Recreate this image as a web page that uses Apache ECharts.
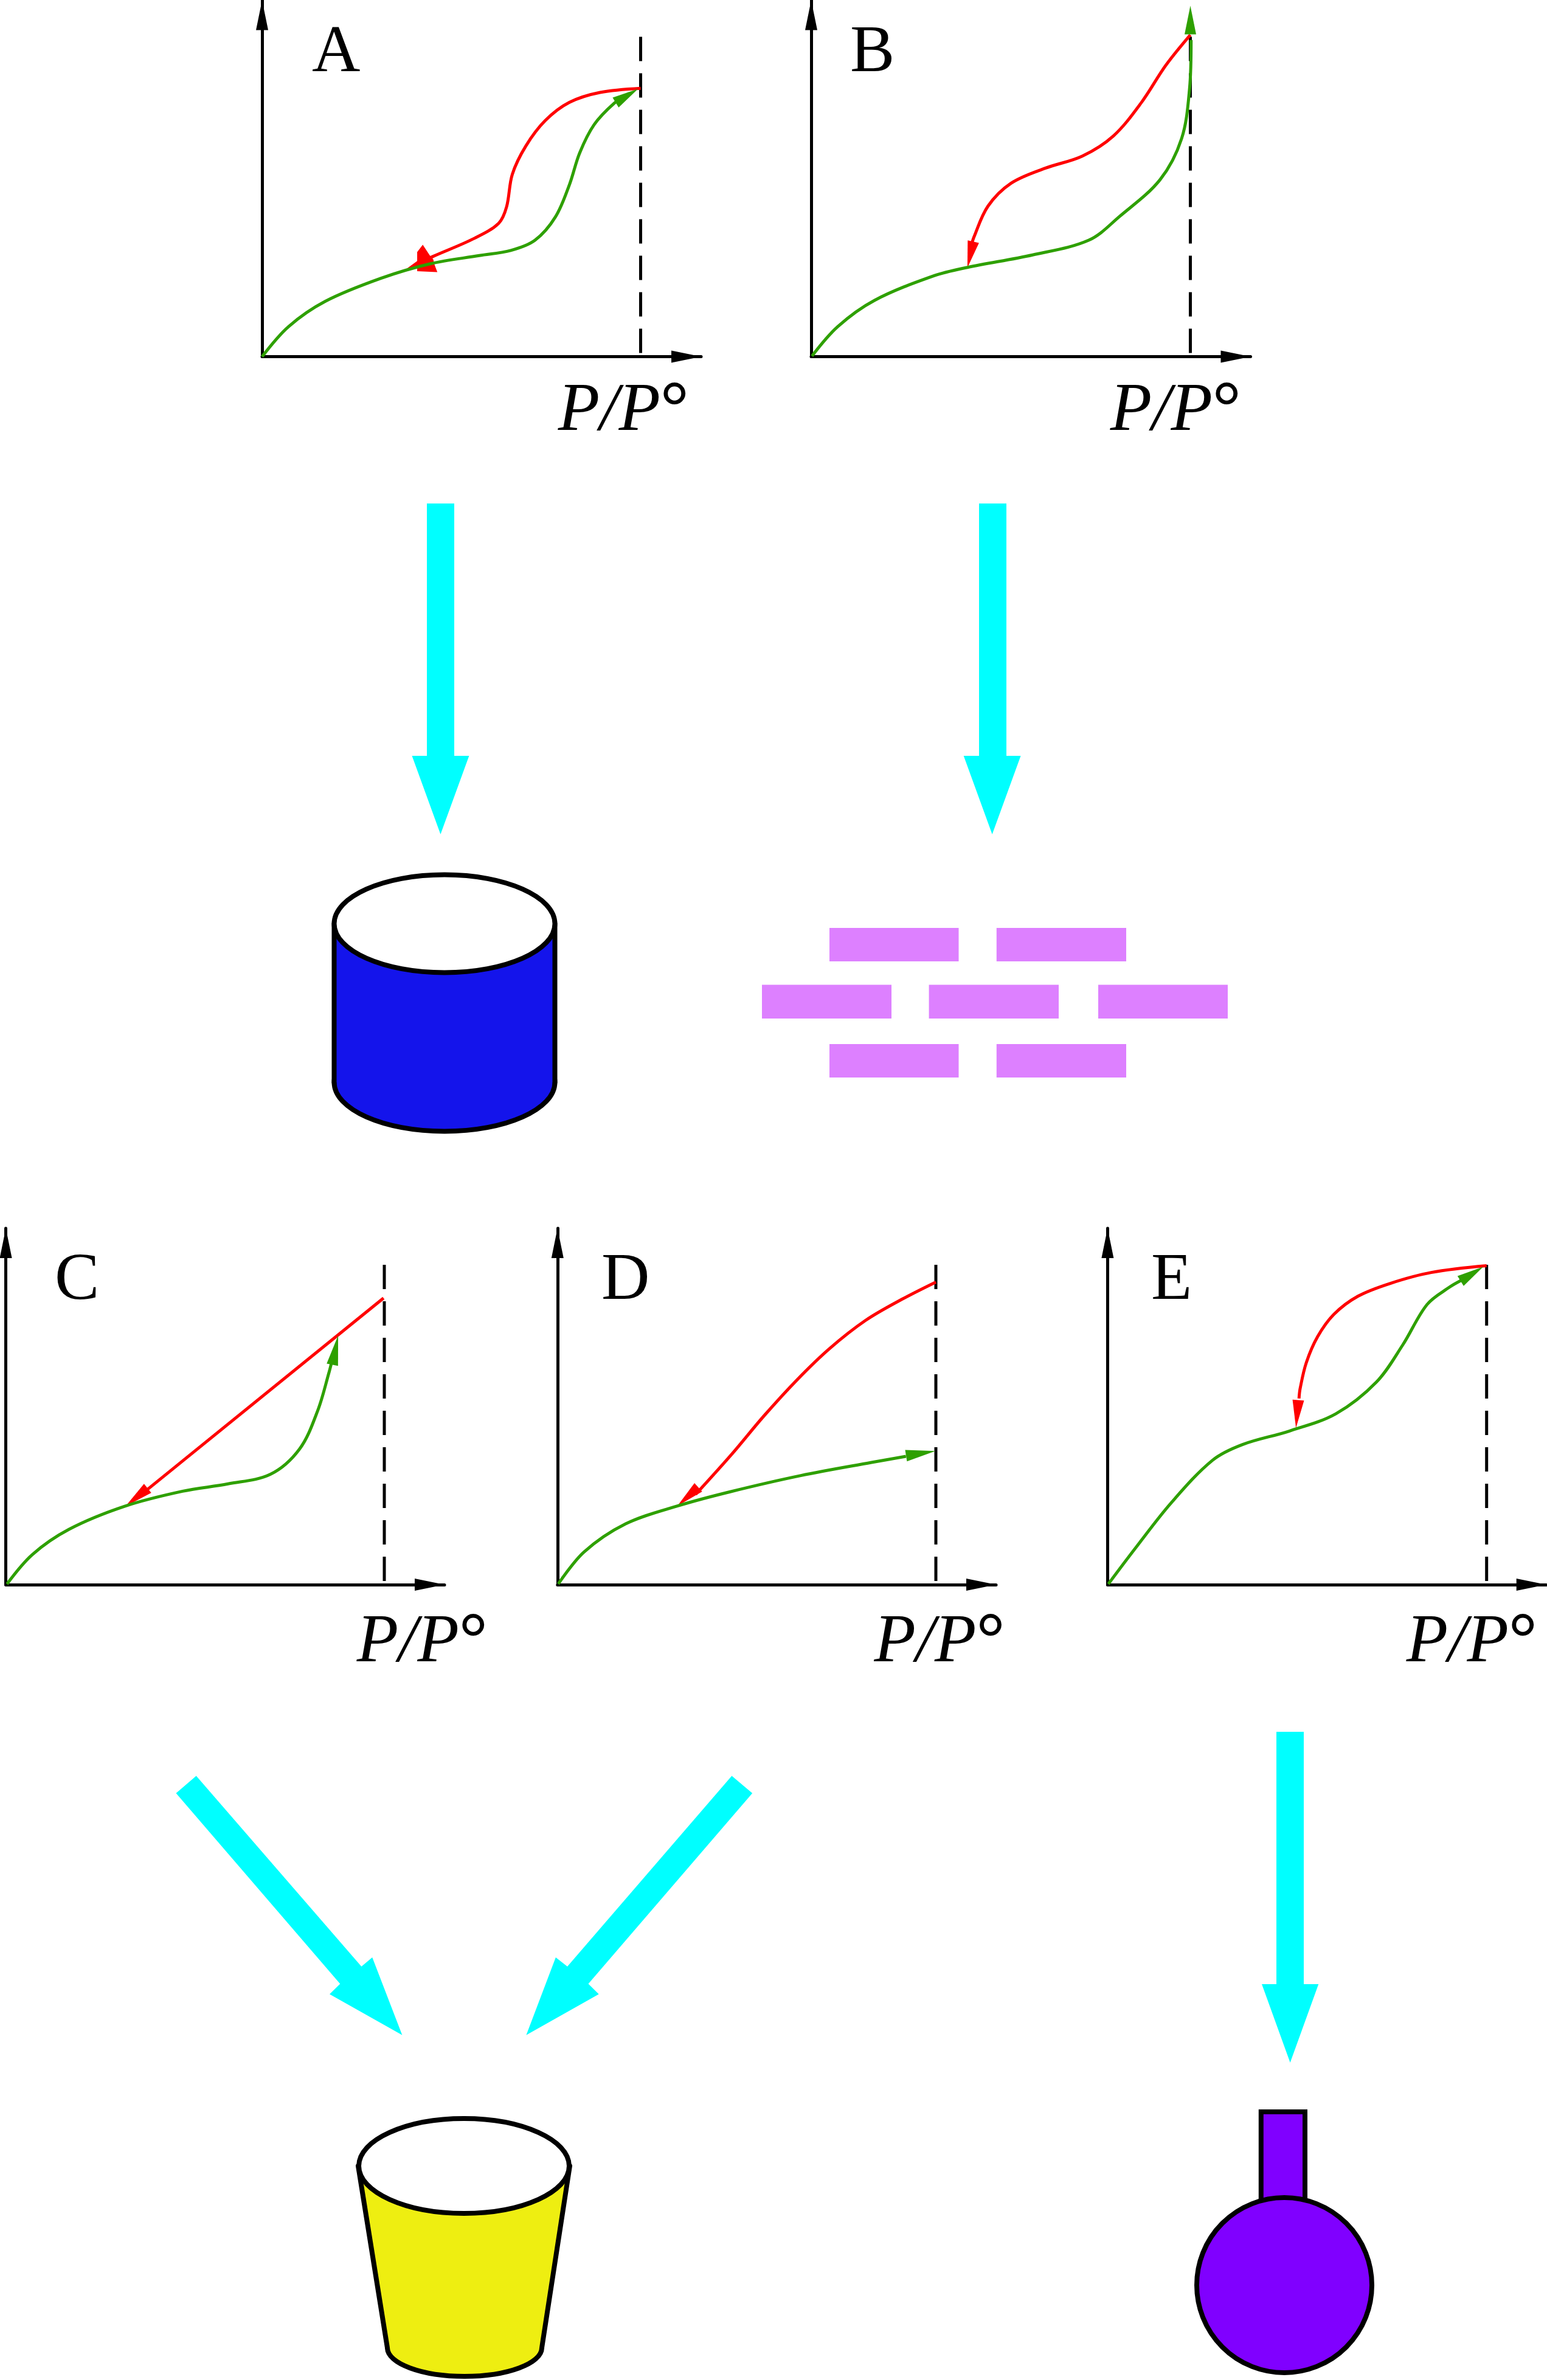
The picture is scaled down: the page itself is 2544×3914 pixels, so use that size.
<!DOCTYPE html>
<html>
<head>
<meta charset="utf-8">
<style>html,body{margin:0;padding:0;background:#fff}#c{width:2544px;height:3914px}</style>
<script src="https://cdn.jsdelivr.net/npm/echarts@6/dist/echarts.min.js"></script>
</head>
<body>
<div id="c"></div>
<script>
// ---- Data: [P/P°, adsorbed amount in % of the dashed line's height] ----
const panelNames = ['A', 'B', 'C', 'D', 'E'];
const xAxisLabel = '{i|P/P}{d|°}';
const saturation = [[1, 100], [1, 0]];

const adsorptionA = [[0,0],[.07,9.4],[.167,17.3],[.314,24.5],[.443,29],[.574,31.6],[.657,33.2],[.721,36.4],[.775,43.7],[.812,53.8],[.839,63.7],[.877,72.5],[.93,79.2],[.97,82.3]];
const desorptionA = [[1,83.9],[.893,82.6],[.812,79.5],[.748,73.8],[.697,65.9],[.661,57],[.646,46.9],[.625,41.7],[.561,37],[.451,31.3],[.41,29]];
const adsorptionTipA = [.993, 83.7];
const desorptionTipA = [.422, 30.7];

const adsorptionB = [[.002,.2],[.07,9.4],[.167,17.6],[.322,25.2],[.412,27.9],[.584,31.8],[.732,36.4],[.813,43.8],[.92,55.3],[.977,68.2],[.998,83.9],[1.002,99]];
const desorptionB = [[1,100.6],[.936,91.2],[.87,79.3],[.797,69],[.715,62.7],[.617,58.9],[.527,54.2],[.466,47],[.429,37.3],[.421,34.1]];
const adsorptionTipB = [1, 109.7];
const desorptionTipB = [.412, 27.8];

const adsorptionC = [[.003,.2],[.07,9.4],[.167,17.3],[.314,24.5],[.467,29.2],[.587,31.5],[.699,34.5],[.776,42.4],[.824,54.4],[.854,66.4],[.862,70.1]];
const desorptionC = [[.998,89.6],[.36,28.4]];
const adsorptionTipC = [.878, 77.9];
const desorptionTipC = [.316, 24.5];

const adsorptionD = [[.002,.2],[.07,10.2],[.18,19],[.317,24.6],[.455,29],[.643,34.1],[.83,38.2],[.921,40.1]];
const desorptionD = [[1,94.6],[.91,89.2],[.814,82.6],[.718,73.7],[.632,63.9],[.546,52.8],[.46,40.7],[.365,28.2]];
const adsorptionTipD = [.999, 41.8];
const desorptionTipD = [.317, 24.6];

const adsorptionE = [[.002,.2],[.074,11.5],[.168,25.6],[.277,38.9],[.356,43.8],[.479,48],[.602,53.4],[.709,63.3],[.779,75],[.843,87.6],[.902,93],[.934,95.2]];
const desorptionE = [[1,99.7],[.854,97.6],[.746,94.2],[.661,90.2],[.597,84.5],[.554,77.5],[.524,69.3],[.508,61.3],[.505,58.2]];
const adsorptionTipE = [.991, 99.4];
const desorptionTipE = [.497, 49];

// ---- Layout and style ----
const BLACK = '#000', GREEN = '#2EA000', RED = '#FF0000', CYAN = '#00FFFF';
const FONT = '"Liberation Serif","Times New Roman",serif';
const LW = 5, CURVE = 5;
const headUp = 'path://M0,-10 L0,-10 M0,0 L4,10 L-4,10 Z';
const blob = 'path://M565,912 L600,885 L600,855 L618,830 L640,865 L652,880 L655,895 L665,923 L600,920 L600,905 Z';

const layout = {
  A: {x0:431,  dash:1053.5, tip:1153,   base:586.5, nameGap:-20,  namePad:32, lx:513,  ly:33,
      ads:adsorptionA, des:desorptionA, aTip:adsorptionTipA, dTip:desorptionTipA, aRot:-58.7, aLen:43, dRot:0, dBlob:true},
  B: {x0:1334, dash:1957.5, tip:2056.5, base:586.5, nameGap:-15.5,namePad:32, lx:1398, ly:33,
      ads:adsorptionB, des:desorptionB, aTip:adsorptionTipB, dTip:desorptionTipB, aRot:0, aLen:47, dRot:167.2, dLen:44},
  C: {x0:9.6,  dash:632,    tip:731,    base:2606,  nameGap:71,   namePad:38, lx:90,   ly:2052,
      ads:adsorptionC, des:desorptionC, aTip:adsorptionTipC, dTip:desorptionTipC, aRot:-11.2, aLen:49, dRot:129, dLen:47},
  D: {x0:916.8,dash:1539,   tip:1638,   base:2606,  nameGap:14.6, namePad:38, lx:989,  ly:2052,
      ads:adsorptionD, des:desorptionD, aTip:adsorptionTipD, dTip:desorptionTipD, aRot:-80.9, aLen:49, dRot:131.7, dLen:46},
  E: {x0:1821.4,dash:2444.7,tip:2542.7, base:2606,  nameGap:-14.7,namePad:38, lx:1893, ly:2052,
      ads:adsorptionE, des:desorptionE, aTip:adsorptionTipE, dTip:desorptionTipE, aRot:-57.8, aLen:44, dRot:175.2, dLen:46}
};
const PX_PER_UNIT = 5.26, Y_MAX = 111.4;

const grid = [], xAxis = [], yAxis = [], series = [], title = [];
panelNames.forEach((name, i) => {
  const p = layout[name];
  const height = Y_MAX * PX_PER_UNIT;
  grid.push({left:p.x0, top:p.base - height, width:p.tip - p.x0, height:height, containLabel:false});
  const axisLine = () => ({show:true, onZero:false, symbol:['none','triangle'], symbolSize:[20, 49],
    symbolOffset:[0,-24.5], lineStyle:{color:BLACK, width:LW}});
  xAxis.push({gridIndex:i, type:'value', min:0, max:(p.tip - p.x0)/(p.dash - p.x0),
    axisLine:axisLine(), axisTick:{show:false}, axisLabel:{show:false}, splitLine:{show:false},
    name:xAxisLabel, nameLocation:'end', nameGap:p.nameGap,
    nameTextStyle:{align:'right', verticalAlign:'top', padding:[p.namePad,0,0,0],
      rich:{
        i:{fontFamily:FONT, fontStyle:'italic', fontSize:112, color:BLACK},
        d:{fontFamily:FONT, fontWeight:'bold', fontSize:118, color:BLACK}
      }}});
  yAxis.push({gridIndex:i, type:'value', min:0, max:Y_MAX,
    axisLine:axisLine(), axisTick:{show:false}, axisLabel:{show:false}, splitLine:{show:false}});
  title.push({text:name, left:p.lx, top:p.ly, padding:0,
    textStyle:{fontFamily:FONT, fontWeight:'normal', fontSize:110, color:BLACK}});
  const base = {xAxisIndex:i, yAxisIndex:i, animation:false, silent:true};
  series.push({...base, type:'line', name:name+' saturation', data:saturation, showSymbol:false, z:2,
    lineStyle:{color:BLACK, width:LW, type:[40,20], cap:'butt'}});
  series.push({...base, type:'line', name:name+' desorption', data:p.des, showSymbol:false, smooth:name==='C'?false:0.34, z:3, clip:false,
    lineStyle:{color:RED, width:CURVE}});
  series.push({...base, type:'scatter', name:name+' desorption head', data:[p.dTip], z:3, clip:false,
    symbol:p.dBlob?blob:headUp, symbolSize:p.dBlob?[51,45]:[19,p.dLen*2], symbolRotate:p.dRot, symbolKeepAspect:false,
    itemStyle:{color:RED, opacity:1}});
  series.push({...base, type:'line', name:name+' adsorption', data:p.ads, showSymbol:false, smooth:0.34, z:4, clip:false,
    lineStyle:{color:GREEN, width:CURVE}});
  series.push({...base, type:'scatter', name:name+' adsorption head', data:[p.aTip], z:4, clip:false,
    symbol:headUp, symbolSize:[19,p.aLen*2], symbolRotate:p.aRot, symbolKeepAspect:false,
    itemStyle:{color:GREEN, opacity:1}});
});

// ---- Schematic pore shapes and big cyan arrows ----
const cyan = pts => ({type:'polygon', shape:{points:pts}, style:{fill:CYAN}});
const downArrow = (l, r, hl, hr, top, hy, tip) => cyan([[l,top],[r,top],[r,hy],[hr,hy],[(hl+hr)/2,tip],[hl,hy],[l,hy]]);
const ink = {stroke:BLACK, lineWidth:8};
const seg = (x1,y1,x2,y2) => ({type:'line', shape:{x1,y1,x2,y2}, style:{...ink, lineCap:'round'}});
const brick = (x1,x2,y1,y2) => ({type:'rect', shape:{x:x1,y:y1,width:x2-x1,height:y2-y1}, style:{fill:'#DD80FF'}});
const graphicEls = [
  downArrow(702,747,677.5,771.4,828,1243,1372),
  downArrow(1610,1655,1584.7,1678.6,828,1243,1372),
  downArrow(2099,2144,2075,2168.3,2848,3263,3392),
  cyan([[322.7,2920.6],[289.5,2949],[559.3,3262.6],[542,3279.5],[661.4,3346.7],[612.2,3219],[594.4,3234]]),
  cyan([[1203.4,2920.6],[1237.2,2949],[967.5,3262.6],[984.7,3279.5],[865.4,3346.7],[913.9,3219],[933,3234]]),
  // cylinder
  {type:'ellipse', shape:{cx:731,cy:1780,rx:181.5,ry:80.5}, style:{fill:'#1414EB', ...ink}},
  {type:'rect', shape:{x:549.5,y:1519,width:363,height:261}, style:{fill:'#1414EB'}},
  seg(549.5,1519,549.5,1780), seg(912.5,1519,912.5,1780),
  {type:'ellipse', shape:{cx:731,cy:1519,rx:181.5,ry:80.5}, style:{fill:'#fff', ...ink}},
  // slit bricks
  brick(1364,1576.5,1526,1581), brick(1638.8,1852,1526,1581),
  brick(1253,1466,1619.4,1675), brick(1527.6,1741,1619.4,1675), brick(1806,2019,1619.4,1675),
  brick(1364,1576.5,1717,1772), brick(1638.8,1852,1717,1772),
  // tapered cup
  {type:'ellipse', shape:{cx:764,cy:3861,rx:127,ry:47}, style:{fill:'#EEEE11', ...ink}},
  {type:'polygon', shape:{points:[[589,3562],[937,3562],[891,3861],[637,3861]]}, style:{fill:'#EEEE11'}},
  seg(589,3562,637,3861), seg(937,3562,891,3861),
  {type:'ellipse', shape:{cx:763,cy:3562,rx:173,ry:78}, style:{fill:'#fff', ...ink}},
  // ink bottle
  {type:'rect', shape:{x:2073.8,y:3473,width:72.2,height:170}, style:{fill:'#8000FF', ...ink}},
  {type:'circle', shape:{cx:2112,cy:3758,r:144}, style:{fill:'#8000FF', stroke:BLACK, lineWidth:8}}
];

const chart = echarts.init(document.getElementById('c'), null, {renderer:'canvas', width:2544, height:3914, devicePixelRatio:1});
chart.setOption({
  animation:false, backgroundColor:'#fff',
  tooltip:{show:false}, legend:{show:false},
  title, grid, xAxis, yAxis, series,
  graphic:{elements:graphicEls.map(e => ({...e, silent:true}))}
});
</script>
</body>
</html>
